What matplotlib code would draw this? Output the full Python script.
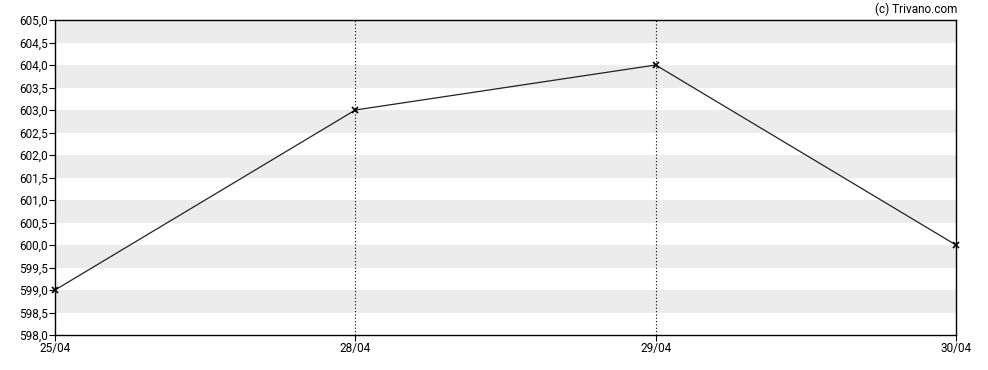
import numpy as np
import matplotlib
matplotlib.use("Agg")
import matplotlib.pyplot as plt

plt.rcParams['font.family'] = ['Roboto', 'DejaVu Sans']

dates = ['25/04', '28/04', '29/04', '30/04']
prices = [599.0, 603.0, 604.0, 600.0]
ymin, ymax = 598.0, 605.0

fig = plt.figure(figsize=(9.88, 3.70), dpi=100)
ax = fig.add_axes([55/988, 1-335/370, (956-55)/988, (335-20)/370])

x = np.arange(len(dates))

# grey bands every other half unit
for lo in np.arange(ymin + 0.5, ymax, 1.0):
    ax.axhspan(lo, lo + 0.5, color='#ececec', lw=0, zorder=0)

for xi in x[1:-1]:
    ax.axvline(xi, color='black', ls=(0, (1, 2)), lw=0.8, zorder=1)

ax.plot(x, prices, color='#222222', lw=0.9, marker='x', ms=4, mew=1.2,
        mec='black', zorder=3, clip_on=False)

ax.set_xlim(0, len(dates) - 1)
ax.set_ylim(ymin, ymax)
ax.set_xticks(x)
ax.set_xticklabels(dates)
yt = np.arange(ymin, ymax + 0.01, 0.5)
ax.set_yticks(yt)
ax.set_yticklabels([('%.1f' % v).replace('.', ',') for v in yt])
ax.tick_params(labelsize=8.5, length=4, width=0.8, colors='black', pad=1)
for s in ax.spines.values():
    s.set_linewidth(1.0)

fig.text(957/988, 1-9/370, '(c) Trivano.com', ha='right', va='center', fontsize=8.5)

fig.savefig('out.png', dpi=100)
